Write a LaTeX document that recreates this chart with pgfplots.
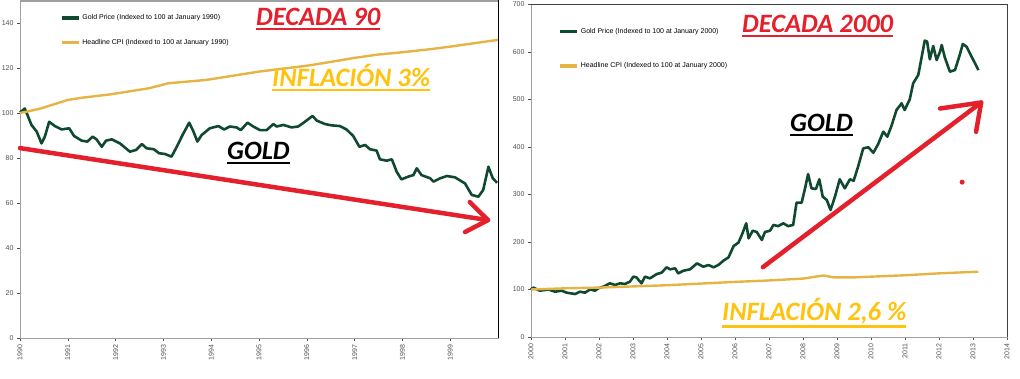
\documentclass[border=0pt]{standalone}
\usepackage{pgfplots}
\pgfplotsset{compat=1.18}
\usepackage{fontspec}
\setmainfont{Liberation Sans}
\newfontfamily\annfont{Carlito}
\definecolor{goldgreen}{HTML}{0F4A30}
\definecolor{cpiyellow}{HTML}{E6B445}
\definecolor{annred}{HTML}{E3202B}
\definecolor{annyellow}{HTML}{FFC20E}
\definecolor{tickgrey}{HTML}{505050}
\definecolor{framegrey}{HTML}{A0A0A0}
\newcommand{\thickul}[1]{\setbox0\hbox{#1}\vtop{\copy0\kern1.8pt\hrule height 2.2pt width\wd0}}
\newcommand{\ann}[2]{\annfont\bfseries\itshape\fontsize{26.5}{30}\selectfont\color{#1}\thickul{#2}}
\begin{document}
\begin{tikzpicture}
\useasboundingbox (0pt,0pt) rectangle (1020pt,378pt);
\pgfplotsset{
  every axis/.append style={
    scale only axis,
    axis line style={framegrey, line width=0.8pt},
    tick style={tickgrey, line width=0.5pt},
    tick align=outside,
    major tick length=3pt,
    xtick pos=bottom, ytick pos=left,
    ticklabel style={font=\fontsize{7}{8}\selectfont, text=tickgrey},
    xticklabel style={rotate=90, anchor=east},
    /pgf/number format/assume math mode=true,
    /pgf/number format/1000 sep={},
    legend style={draw=none, fill=none, font=\fontsize{7}{8}\selectfont, inner sep=0pt, row sep=14pt,
      legend cell align=left},
    legend image code/.code={\draw[#1, line width=3.5pt] (0pt,0pt) -- (17pt,0pt);},
    clip=false,
  }
}
% ---------------- Left panel ----------------
\begin{axis}[
  at={(20pt,40pt)}, anchor=south west,
  width=478pt, height=337.5pt,
  xmin=1990, xmax=2000, ymin=0, ymax=150,
  xtick={1990,1991,...,1999},
  ytick={0,20,...,140},
  legend style={at={(0.083,0.965)}, anchor=north west},
]
\addplot[goldgreen, line width=2.6pt, line join=round] coordinates {
(1990.00,100.2) (1990.10,102) (1990.17,98.4) (1990.24,94.7) (1990.35,91.7) (1990.45,86.5)
(1990.52,89.5) (1990.61,96.1) (1990.73,94.2) (1990.87,92.7) (1991.03,93.2) (1991.13,89.8)
(1991.29,87.7) (1991.41,87.3) (1991.52,89.5) (1991.60,88.3) (1991.71,85.0) (1991.80,87.7)
(1991.92,88.3) (1992.09,86.5) (1992.30,82.8) (1992.43,83.6) (1992.55,86.2) (1992.65,84.3)
(1992.80,83.9) (1992.91,82.1) (1993.03,81.8) (1993.17,80.6) (1993.28,85.0) (1993.40,90.2)
(1993.54,95.7) (1993.63,91.7) (1993.71,87.3) (1993.80,90.2) (1993.97,93.2) (1994.15,94.2)
(1994.27,92.7) (1994.39,94.0) (1994.53,93.6) (1994.62,92.4) (1994.76,95.7) (1994.88,94.0)
(1995.02,92.4) (1995.16,92.4) (1995.30,95.1) (1995.37,94.0) (1995.51,94.7) (1995.68,93.6)
(1995.82,94.0) (1995.96,96.1) (1996.12,98.7) (1996.21,96.6) (1996.38,95.1) (1996.52,94.5)
(1996.69,94.2) (1996.83,92.7) (1996.97,89.8) (1997.10,85.0) (1997.22,85.8) (1997.32,83.9)
(1997.46,83.3) (1997.53,79.4) (1997.67,78.8) (1997.78,79.4) (1997.88,73.9) (1997.98,70.5)
(1998.12,71.7) (1998.23,72.4) (1998.30,75.4) (1998.40,72.4) (1998.58,71.0) (1998.65,69.5)
(1998.79,71.0) (1998.93,72.0) (1999.10,71.4) (1999.31,68.7) (1999.45,63.6) (1999.59,62.8)
(1999.69,65.8) (1999.80,76.1) (1999.89,71.0) (1999.98,69.0)
};
\addlegendentry{Gold Price (Indexed to 100 at January 1990)}
\addplot[cpiyellow, line width=2.4pt, line join=round] coordinates {
(1990.0,100) (1990.4,101.8) (1991.0,105.8) (1991.3,106.8) (1991.9,108.3) (1992.7,111.0)
(1993.1,113.2) (1993.9,114.7) (1995.0,118.4) (1996.0,121.0) (1996.5,122.7) (1997.0,124.5)
(1997.5,126.0) (1998.0,127.0) (1998.6,128.4) (1999.0,129.5) (1999.5,131.0) (2000.0,132.5)
};
\addlegendentry{Headline CPI (Indexed to 100 at January 1990)}
\draw[framegrey, line width=2.5pt] (rel axis cs:0,1) -- (rel axis cs:1,1);
\draw[black, line width=1pt] (rel axis cs:1,0) -- (rel axis cs:1,1);
\draw[annred, line width=4.5pt, line cap=round] (axis cs:1990,84.4) -- (axis cs:1999.79,52.4);
\draw[annred, line width=4.5pt, line cap=round, line join=round]
  (axis cs:1999.31,47.1) -- (axis cs:1999.79,52.4) -- (axis cs:1999.41,60.4);
\end{axis}
% ---------------- Right panel ----------------
\begin{axis}[
  at={(531pt,41pt)}, anchor=south west,
  width=476pt, height=332.5pt,
  xmin=2000, xmax=2014, ymin=0, ymax=700,
  xtick={2000,2001,...,2014},
  ytick={0,100,...,700},
  legend style={at={(0.057,0.935)}, anchor=north west, row sep=24pt},
]
\addplot[goldgreen, line width=2.6pt, line join=round] coordinates {
(2000.00,100) (2000.07,104) (2000.26,97.5) (2000.51,100) (2000.71,95.4) (2000.90,97.5)
(2001.05,93.3) (2001.30,90.5) (2001.44,95.4) (2001.59,93.3) (2001.74,100.3) (2001.88,97.5)
(2001.98,102.5) (2002.13,106) (2002.32,113) (2002.47,109.5) (2002.62,113) (2002.76,111.6)
(2002.91,116.5) (2003.01,127) (2003.10,125.6) (2003.25,113) (2003.35,127) (2003.50,123.5)
(2003.70,132.6) (2003.84,135.4) (2003.99,146.7) (2004.09,142.5) (2004.24,144.6) (2004.33,133.9)
(2004.48,139.5) (2004.68,142.5) (2004.88,155) (2005.07,148) (2005.22,151.6) (2005.37,146.7)
(2005.51,151.6) (2005.66,160.7) (2005.81,167.7) (2005.96,191.6) (2006.10,198.6) (2006.20,214.7)
(2006.33,239.3) (2006.40,207.7) (2006.52,223.8) (2006.64,221) (2006.79,204.2) (2006.88,221)
(2007.03,223.8) (2007.13,235.8) (2007.27,233.5) (2007.42,239.3) (2007.56,233.5) (2007.71,235.8)
(2007.81,282.8) (2007.96,282.8) (2008.06,313) (2008.15,343) (2008.25,313) (2008.38,311.6)
(2008.48,332) (2008.58,295.4) (2008.70,288.4) (2008.81,267.4) (2008.94,295.4) (2009.08,332)
(2009.23,313) (2009.38,332) (2009.49,329) (2009.62,358.6) (2009.77,397) (2009.92,399.5)
(2010.07,388) (2010.21,406) (2010.36,432.3) (2010.48,421.8) (2010.60,444) (2010.75,477.9)
(2010.90,491.9) (2010.99,477.9) (2011.14,500.4) (2011.24,534) (2011.39,551.6) (2011.52,600.7)
(2011.58,623.9) (2011.65,622) (2011.73,584.6) (2011.83,612.6) (2011.93,583) (2012.03,600.7)
(2012.08,614.7) (2012.17,588.8) (2012.32,558.6) (2012.47,562) (2012.60,591.6) (2012.70,616.8)
(2012.81,611.2) (2012.96,590) (2013.16,562)
};
\addlegendentry{Gold Price (Indexed to 100 at January 2000)}
\addplot[cpiyellow, line width=2.4pt, line join=round] coordinates {
(2000.0,100) (2001.0,102.5) (2002.0,104) (2003.0,106.5) (2004.0,109) (2005.0,112.5)
(2006.0,116) (2007.0,119) (2008.0,123) (2008.6,129.5) (2008.9,125.6) (2009.5,125.5)
(2010.0,127) (2011.0,130) (2012.0,134) (2013.16,137.5)
};
\addlegendentry{Headline CPI (Indexed to 100 at January 2000)}
\draw[black!75, line width=1pt] (rel axis cs:0,1) -- (rel axis cs:1,1) -- (rel axis cs:1,0);
\draw[annred, line width=4.5pt, line cap=round] (axis cs:2006.82,147) -- (axis cs:2013.24,493.7);
\draw[annred, line width=4.5pt, line cap=round, line join=round]
  (axis cs:2012.03,481) -- (axis cs:2013.24,493.7) -- (axis cs:2013.09,432);
\fill[annred] (axis cs:2012.68,326) circle (2.5pt);
\end{axis}
% ---------------- Annotations ----------------
\node[anchor=base west, inner sep=0pt] at (256pt,352pt) {\ann{annred}{DECADA 90}};
\node[anchor=base west, inner sep=0pt] at (272pt,291pt) {\ann{annyellow}{INFLACIÓN 3\%}};
\node[anchor=base west, inner sep=0pt] at (227pt,218pt) {\ann{black}{GOLD}};
\node[anchor=base west, inner sep=0pt] at (742pt,345pt) {\ann{annred}{DECADA 2000}};
\node[anchor=base west, inner sep=0pt] at (790pt,246pt) {\ann{black}{GOLD}};
\node[anchor=base west, inner sep=0pt] at (722pt,58pt) {\ann{annyellow}{INFLACIÓN 2,6 \%}};
\end{tikzpicture}
\end{document}
